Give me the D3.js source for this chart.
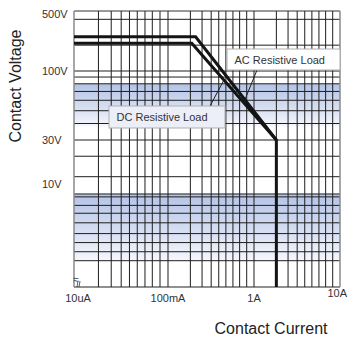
<!DOCTYPE html>
<html><head><meta charset="utf-8">
<script src="https://cdn.jsdelivr.net/npm/d3@7"></script>
<style>
html,body{margin:0;padding:0;background:#fff;}
svg{display:block;font-family:"Liberation Sans",Arial,sans-serif;}
</style></head>
<body>
<svg id="chart" width="348" height="340"></svg>
<script>
// ---------- data ----------
const xDecades = [1e-5, 0.1, 1, 10];            // axis break between the first two
const xTickLabels = ["10uA", "100mA", "1A", "10A"];
const yKnots = [500, 100, 30, 10, 1];
const yTickValues = [500, 100, 30, 10];
const yTickLabels = ["500V", "100V", "30V", "10V"];
const yGridValues = [400, 200, 100, 90, 80, 70, 60, 50, 40, 30, 20, 12,
                     8, 7.5, 6.2, 5.2, 4.2, 3.3, 2.7, 2.2, 1.8];
const acCurrent = [1e-5, 0.24, 2];
const acVoltage = [250, 250, 30];
const dcCurrent = [1e-5, 0.21, 2, 2];
const dcVoltage = [210, 210, 30, 1];
const bandTop = [80, 8];
const bandBottom = [38, 1.8];
const seriesNames = ["AC Resistive Load", "DC Resistive Load"];

// ---------- layout ----------
const L = 74, R = 340, T = 11, B = 287;
const svg = d3.select("#chart");

// grid-paper style decade subdivision (positions of 1..10 within a decade)
const decadeFractions = [0, .26, .396, .502, .59, .673, .755, .833, .915, 1];
const warp = d3.scaleLinear().domain(d3.range(1, 11).map(Math.log10)).range(decadeFractions);
const segPx = d3.scaleLinear().domain([0, 1, 2, 3]).range([L, 168, 254, R]);
function x(I) {
  let k = 0;
  while (k < xDecades.length - 2 && I > xDecades[k + 1]) k++;
  const lo = xDecades[k], hi = xDecades[k + 1];
  const f = Math.log10(I / lo) / Math.log10(hi / lo);
  return segPx(k + warp(f));
}
const yLog = d3.scaleLinear().domain(yKnots.map(Math.log10)).range([T, 71, 140, 184, B]);
const y = v => yLog(Math.log10(v));

// ---------- bands ----------
const defs = svg.append("defs");
const grad = defs.append("linearGradient").attr("id", "band").attr("x1", 0).attr("y1", 0).attr("x2", 0).attr("y2", 1);
grad.append("stop").attr("offset", "0%").attr("stop-color", "#b4c3e6");
grad.append("stop").attr("offset", "55%").attr("stop-color", "#d6def2");
grad.append("stop").attr("offset", "100%").attr("stop-color", "#f6f7fc");
svg.selectAll("rect.band").data(bandTop.map((t, i) => [t, bandBottom[i]])).join("rect")
  .attr("class", "band").attr("x", L).attr("width", R - L)
  .attr("y", d => y(d[0])).attr("height", d => y(d[1]) - y(d[0]))
  .attr("fill", "url(#band)");

// ---------- grid ----------
const gridX = [];
for (let k = 0; k < xDecades.length - 1; k++)
  for (let n = 2; n <= 9; n++) gridX.push(segPx(k + warp(Math.log10(n))));
for (let k = 1; k < xDecades.length - 1; k++) gridX.push(segPx(k));
const grid = svg.append("g").attr("stroke", "#1e1e1e").attr("stroke-width", 1);
grid.selectAll("line.v").data(gridX).join("line").attr("class", "v")
  .attr("x1", d => d).attr("x2", d => d).attr("y1", T).attr("y2", B);
grid.selectAll("line.h").data(yGridValues).join("line").attr("class", "h")
  .attr("x1", L).attr("x2", R).attr("y1", d => y(d)).attr("y2", d => y(d));
// frame
svg.append("line").attr("x1", L).attr("x2", R).attr("y1", T).attr("y2", T).attr("stroke", "#333");
svg.append("line").attr("x1", L).attr("x2", R).attr("y1", B).attr("y2", B).attr("stroke", "#222");
svg.append("line").attr("x1", L).attr("x2", L).attr("y1", T).attr("y2", B).attr("stroke", "#8a8a8a").attr("stroke-width", 1.5);
svg.append("line").attr("x1", R).attr("x2", R).attr("y1", T).attr("y2", B).attr("stroke", "#8a8a8a").attr("stroke-width", 1.5);

// ---------- curves ----------
const line = d3.line().x(d => x(d[0])).y(d => y(d[1]));
const ac = acCurrent.map((c, i) => [c, acVoltage[i]]);
const dc = dcCurrent.map((c, i) => [c, dcVoltage[i]]);
[ac, dc].forEach(pts => svg.append("path").attr("d", line(pts))
  .attr("fill", "none").attr("stroke", "#141414").attr("stroke-width", 3).attr("stroke-linejoin", "miter"));

// ---------- annotations ----------
function along(pts, i, f) {
  const a = [x(pts[i][0]), y(pts[i][1])], b = [x(pts[i + 1][0]), y(pts[i + 1][1])];
  return [a[0] + (b[0] - a[0]) * f, a[1] + (b[1] - a[1]) * f];
}
const acEnd = along(ac, 1, 0.61), dcEnd = along(dc, 1, 0.38);
const boxes = [
  {text: seriesNames[0], x: 227, y: 49, w: 113, h: 21, fill: "#ffffff", from: [257, 70], to: acEnd},
  {text: seriesNames[1], x: 109, y: 106, w: 116, h: 22, fill: "#eceef8", from: [210, 106], to: dcEnd}
];
boxes.forEach(b => {
  svg.append("line").attr("x1", b.from[0]).attr("y1", b.from[1]).attr("x2", b.to[0]).attr("y2", b.to[1])
    .attr("stroke", "#1e1e1e").attr("stroke-width", 1);
  svg.append("rect").attr("x", b.x).attr("y", b.y).attr("width", b.w).attr("height", b.h)
    .attr("fill", b.fill).attr("stroke", "#b0b0b0").attr("stroke-width", 1);
  svg.append("text").attr("x", b.x + 7.5).attr("y", b.y + b.h / 2 + 4).attr("font-size", 11)
    .attr("fill", "#333").text(b.text);
});

// ---------- tick labels ----------
svg.selectAll("text.yt").data(yTickValues).join("text").attr("class", "yt")
  .attr("x", 42).attr("y", d => Math.max(y(d), 14) + 4).attr("font-size", 11).attr("fill", "#333")
  .text((d, i) => yTickLabels[i]);
const lastX = xDecades.length - 1;
svg.selectAll("text.xt").data(xDecades).join("text").attr("class", "xt")
  .attr("x", (d, i) => i === lastX ? 347 : x(d) + (i === 0 ? 4 : 0))
  .attr("y", (d, i) => i === lastX ? 297 : 302)
  .attr("text-anchor", (d, i) => i === lastX ? "end" : "middle")
  .attr("font-size", 11).attr("fill", "#333")
  .text((d, i) => xTickLabels[i]);

// axis break mark
svg.append("text").attr("x", 76).attr("y", 283).attr("text-anchor", "middle").attr("font-size", 10).attr("fill", "#333").text("≈");
svg.append("line").attr("x1", 78).attr("x2", 77).attr("y1", 281).attr("y2", 287).attr("stroke", "#333").attr("stroke-width", 0.8);
svg.append("line").attr("x1", 80).attr("x2", 79).attr("y1", 281).attr("y2", 287).attr("stroke", "#333").attr("stroke-width", 0.8);

// ---------- axis titles ----------
svg.append("text").attr("transform", "translate(21,86) rotate(-90)").attr("text-anchor", "middle")
  .attr("font-size", 16).attr("fill", "#222").text("Contact Voltage");
svg.append("text").attr("x", 271).attr("y", 334).attr("text-anchor", "middle")
  .attr("font-size", 16).attr("fill", "#222").text("Contact Current");
</script>
</body></html>
